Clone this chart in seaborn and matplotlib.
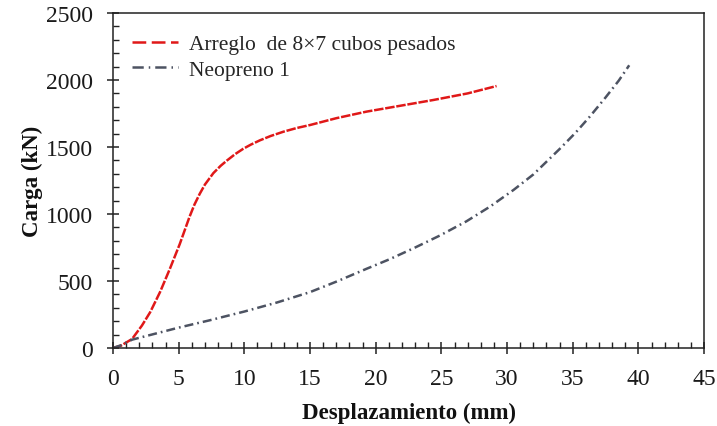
import numpy as np
import pandas as pd
import matplotlib
matplotlib.use("Agg")
import matplotlib.pyplot as plt
from matplotlib.lines import Line2D
from matplotlib.ticker import MultipleLocator
import seaborn as sns

# Load-displacement curves
arreglo_desp = [0.0, 0.6, 1.45, 2.2, 2.83, 3.58, 4.33, 5.08, 5.83, 6.2, 6.6, 7.0,
                7.64, 8.2, 8.66, 9.3, 9.92, 10.5, 11.19, 12.0, 12.97, 14.0, 15.0,
                17.0, 19.3, 22.0, 24.4, 27.0, 29.2]
arreglo_carga = [0, 17, 67, 167, 267, 417, 591, 775, 980, 1070, 1150, 1220,
                 1305, 1360, 1398, 1447, 1487, 1518, 1550, 1582, 1614, 1642, 1664,
                 1715, 1764, 1810, 1851, 1900, 1955]

neopreno_desp = [0.0, 0.6, 1.45, 5.0, 7.33, 10.0, 12.5, 15.0, 17.0, 19.3, 21.0,
                 22.9, 24.9, 26.9, 28.7, 30.5, 32.0, 33.0, 34.0, 35.2, 36.3,
                 37.5, 38.5, 39.3]
neopreno_carga = [0, 20, 62, 152, 206, 272, 340, 417, 495, 591, 660,
                  745, 840, 945, 1055, 1180, 1295, 1390, 1485, 1605, 1727,
                  1870, 1995, 2110]

etiquetas = ["Arreglo  de 8\u00d77 cubos pesados", "Neopreno 1"]
colores = ["#e01818", "#4d5362"]

sns.set_theme(style="ticks")
plt.rcParams["font.family"] = ["Liberation Serif", "DejaVu Serif"]

fig = plt.figure(figsize=(7.17, 4.27), dpi=100)
ax = fig.add_axes([0.1576, 0.1827, 0.8244, 0.7845])

df_a = pd.DataFrame({"x": arreglo_desp, "y": arreglo_carga})
df_n = pd.DataFrame({"x": neopreno_desp, "y": neopreno_carga})

sns.lineplot(data=df_a, x="x", y="y", sort=False, ax=ax, color=colores[0],
             linewidth=1.8, estimator=None)
ax.lines[-1].set_dashes((3.8, 0.7))
sns.lineplot(data=df_n, x="x", y="y", sort=False, ax=ax, color=colores[1],
             linewidth=1.8, estimator=None)
ax.lines[-1].set_dashes((3.6, 1.6, 0.7, 1.6))

ax.set_xlim(0, 45)
ax.set_ylim(0, 2500)
ax.xaxis.set_major_locator(MultipleLocator(5))
ax.xaxis.set_minor_locator(MultipleLocator(1))
ax.yaxis.set_major_locator(MultipleLocator(500))
ax.yaxis.set_minor_locator(MultipleLocator(100))

ax.tick_params(which="major", direction="inout", length=9, width=1.1,
               colors="#222222", labelsize=17, pad=4)
ax.tick_params(which="minor", direction="in", length=4, width=1.0,
               colors="#222222")
for lab in ax.get_xticklabels() + ax.get_yticklabels():
    lab.set_color("#1a1a1a")
ax.tick_params(axis="x", pad=10)
ax.tick_params(axis="y", pad=10)
for s in ax.spines.values():
    s.set_linewidth(1.1)
    s.set_color("#222222")

ax.set_xlabel("Desplazamiento (mm)", fontsize=16.5, fontweight="bold",
              color="#111111", labelpad=9)
ax.set_ylabel("Carga (kN)", fontsize=16.5, fontweight="bold",
              color="#111111", labelpad=2)

handles = [Line2D([], [], color=colores[0], linewidth=1.8, dashes=(5.5, 2.2)),
           Line2D([], [], color=colores[1], linewidth=1.8, dashes=(4.5, 2.0, 0.6, 2.0))]
ax.legend(handles, etiquetas, loc="upper left", frameon=False, fontsize=15.5,
          handlelength=2.1, handletextpad=0.55, labelspacing=0.25,
          bbox_to_anchor=(0.0, 0.995))

fig.savefig("out.png", dpi=100)
